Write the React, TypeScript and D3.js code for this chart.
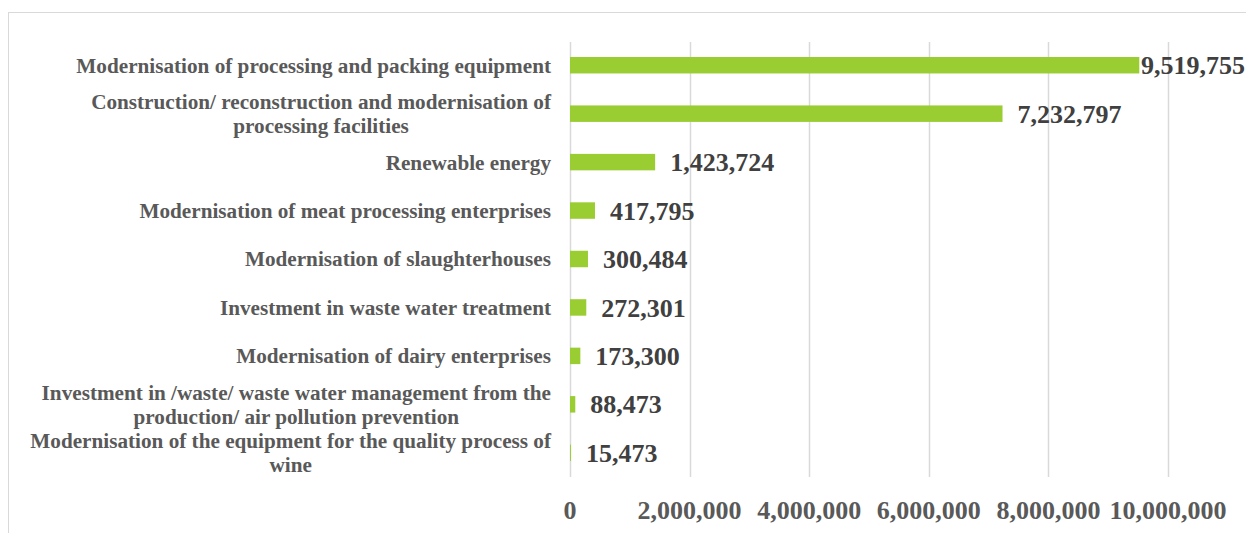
import React, { useEffect, useRef } from "react";
import * as d3 from "d3";

const categories: string[] = [
  "Modernisation of processing and packing equipment",
  "Construction/ reconstruction and modernisation of\nprocessing facilities",
  "Renewable energy",
  "Modernisation of meat processing enterprises",
  "Modernisation of slaughterhouses",
  "Investment in waste water treatment",
  "Modernisation of dairy enterprises",
  "Investment in /waste/ waste water management from the\nproduction/ air pollution prevention",
  "Modernisation of the equipment for the quality process of\nwine",
];

const values: number[] = [9519755, 7232797, 1423724, 417795, 300484, 272301, 173300, 88473, 15473];

const xTicks: number[] = [0, 2000000, 4000000, 6000000, 8000000, 10000000];

const W = 1246;
const H = 533;
const FONT = "'Liberation Serif', 'Times New Roman', serif";

export default function App() {
  const ref = useRef<SVGSVGElement>(null);

  useEffect(() => {
    const svg = d3.select(ref.current!);
    svg.selectAll("*").remove();

    const plotLeft = 570;
    const plotRight = 1168;
    const plotTop = 42;
    const plotBottom = 477;
    const chartRight = 1245;

    const x = d3.scaleLinear().domain([0, 10000000]).range([plotLeft, plotRight]);
    const y = d3
      .scaleBand<string>()
      .domain(categories)
      .range([41, 477])
      .paddingInner(0.66)
      .paddingOuter(0.33);

    const fmt = d3.format(",");

    // chart border
    svg
      .append("rect")
      .attr("x", 8.5)
      .attr("y", 12.5)
      .attr("width", W + 20)
      .attr("height", H + 20)
      .attr("fill", "none")
      .attr("stroke", "#d9d9d9")
      .attr("stroke-width", 1);

    // gridlines
    svg
      .append("g")
      .selectAll("line")
      .data(xTicks)
      .join("line")
      .attr("x1", (d) => Math.round(x(d)) + 0.5)
      .attr("x2", (d) => Math.round(x(d)) + 0.5)
      .attr("y1", plotTop)
      .attr("y2", plotBottom)
      .attr("stroke", "#d9d9d9")
      .attr("stroke-width", 1.5);

    // bars
    svg
      .append("g")
      .selectAll("rect")
      .data(values)
      .join("rect")
      .attr("x", x(0))
      .attr("y", (_d, i) => y(categories[i])!)
      .attr("width", (d) => x(d) - x(0))
      .attr("height", y.bandwidth())
      .attr("fill", "#9acd32");

    // data labels
    const labels = svg
      .append("g")
      .selectAll("text")
      .data(values)
      .join("text")
      .attr("y", (_d, i) => y(categories[i])! + y.bandwidth() / 2)
      .attr("dy", "0.35em")
      .attr("font-family", FONT)
      .attr("font-weight", "bold")
      .attr("font-size", 26)
      .attr("fill", "#404040")
      .text((d) => fmt(d));
    labels.each(function (d) {
      const t = this as SVGTextElement;
      const w = t.getComputedTextLength();
      const xs = Math.min(x(d) + 15, chartRight - w);
      d3.select(t).attr("x", xs);
    });

    // category labels
    const catG = svg.append("g");
    categories.forEach((c) => {
      const lines = c.split("\n");
      const cy = y(c)! + y.bandwidth() / 2;
      const lh = 24;
      const t = catG
        .append("text")
        .attr("font-family", FONT)
        .attr("font-weight", "bold")
        .attr("font-size", 21.2)
        .attr("fill", "#595959")
        .attr("text-anchor", "middle");
      const spans = lines.map((l, j) =>
        t
          .append("tspan")
          .attr("y", cy + (j - (lines.length - 1) / 2) * lh)
          .attr("dy", "0.35em")
          .text(l)
      );
      let maxW = 0;
      spans.forEach((s) => {
        maxW = Math.max(maxW, (s.node() as SVGTSpanElement).getComputedTextLength());
      });
      const cx = 551 - maxW / 2;
      spans.forEach((s) => s.attr("x", cx));
    });

    // x axis tick labels
    svg
      .append("g")
      .selectAll("text")
      .data(xTicks)
      .join("text")
      .attr("x", (d) => x(d))
      .attr("y", 519)
      .attr("text-anchor", "middle")
      .attr("font-family", FONT)
      .attr("font-weight", "bold")
      .attr("font-size", 26)
      .attr("fill", "#595959")
      .text((d) => fmt(d));
  }, []);

  return (
    <svg
      ref={ref}
      width={W}
      height={H}
      style={{ position: "absolute", left: 0, top: 0, background: "#fff" }}
    />
  );
}
